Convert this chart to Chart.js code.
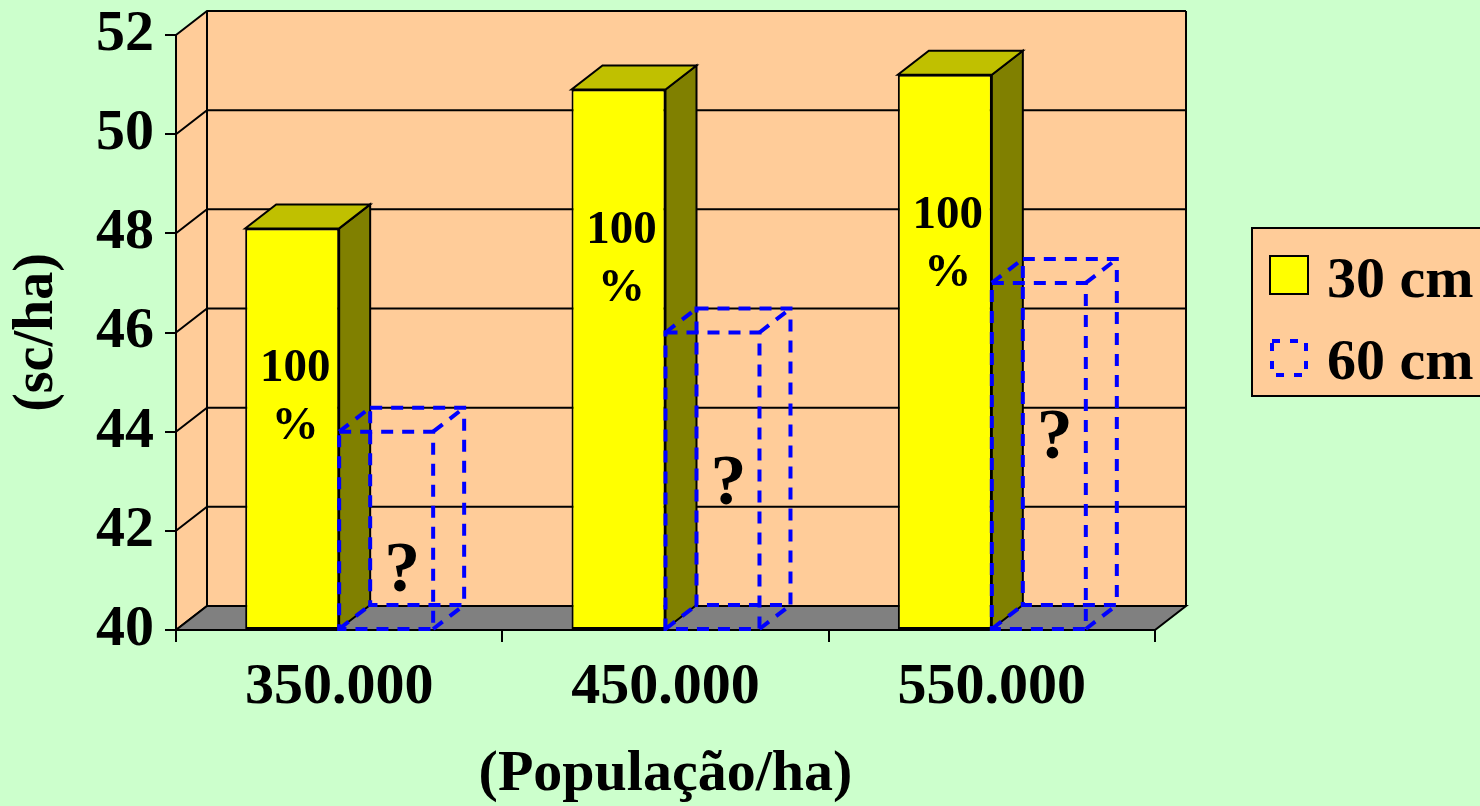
<!DOCTYPE html>
<html lang="pt-BR">
<head>
<meta charset="UTF-8">
<title>Produtividade x população</title>
<script src="https://cdn.jsdelivr.net/npm/chart.js@4.4.1/dist/chart.umd.min.js"></script>
<style>
    html, body { margin: 0; padding: 0; background: #CCFFCC; overflow: hidden; }
    canvas { display: block; }
</style>
</head>
<body>
<canvas id="produtividadeChart" width="1480" height="806"></canvas>
<script>
// dados (sc/ha) por população de plantas
const populacoes = ['350.000', '450.000', '550.000'];
const espacamento30 = [48.1, 50.9, 51.2];
const espacamento60 = [44.0, 46.0, 47.0];
const rotulos30 = ['100', '100', '100'];
const rotulos60 = ['?', '?', '?'];
const yMin = 40;
const yMax = 52;
const yPasso = 2;

// profundidade do efeito 3D
const DX = 31;
const DY = -24;

const FAMILIA = '"Liberation Serif", "Times New Roman", serif';
const fonte = (size, lineHeight = 1.2) => ({ family: FAMILIA, size, weight: 'bold', lineHeight });

function poligono(ctx, pts, fill) {
    ctx.beginPath();
    ctx.moveTo(pts[0][0], pts[0][1]);
    pts.slice(1).forEach(p => ctx.lineTo(p[0], p[1]));
    ctx.closePath();
    if (fill) {
        ctx.fillStyle = fill;
        ctx.fill();
    }
    ctx.stroke();
}

function caixa(chart, bar) {
    const { x, y, base, width } = bar.getProps(['x', 'y', 'base', 'width'], true);
    const fundo = Math.min(base, chart.chartArea.bottom);
    return { x, y, base: fundo, l: x - width / 2, r: x + width / 2, width };
}

const paredes3d = {
    id: 'paredes3d',
    beforeDraw(chart) {
        const { ctx, chartArea: a, scales: { y } } = chart;
        ctx.save();
        ctx.fillStyle = '#CCFFCC';
        ctx.fillRect(0, 0, chart.width, chart.height);

        // parede lateral + fundo
        ctx.fillStyle = '#FFCC99';
        ctx.beginPath();
        ctx.moveTo(a.left, a.top);
        ctx.lineTo(a.left + DX, a.top + DY);
        ctx.lineTo(a.right + DX, a.top + DY);
        ctx.lineTo(a.right + DX, a.bottom + DY);
        ctx.lineTo(a.left, a.bottom);
        ctx.closePath();
        ctx.fill();

        ctx.strokeStyle = '#000';
        ctx.lineWidth = 2;
        y.ticks.forEach(t => {
            const py = y.getPixelForValue(t.value);
            ctx.beginPath();
            ctx.moveTo(a.left, py);
            ctx.lineTo(a.left + DX, py + DY);
            ctx.lineTo(a.right + DX, py + DY);
            ctx.stroke();
        });
        ctx.beginPath();
        ctx.moveTo(a.left + DX, a.top + DY);
        ctx.lineTo(a.left + DX, a.bottom + DY);
        ctx.moveTo(a.right + DX, a.top + DY);
        ctx.lineTo(a.right + DX, a.bottom + DY);
        ctx.stroke();

        // piso
        poligono(ctx, [
            [a.left, a.bottom], [a.right, a.bottom],
            [a.right + DX, a.bottom + DY], [a.left + DX, a.bottom + DY]
        ], '#808080');
        ctx.restore();
    }
};

const barras3d = {
    id: 'barras3d',
    afterDatasetsDraw(chart) {
        const { ctx } = chart;
        const meta30 = chart.getDatasetMeta(0);
        const meta60 = chart.getDatasetMeta(1);
        ctx.save();

        // lateral e topo das barras cheias
        ctx.strokeStyle = '#000';
        ctx.lineWidth = 2;
        meta30.data.forEach(bar => {
            const { y, base, l, r } = caixa(chart, bar);
            poligono(ctx, [[r, y], [r + DX, y + DY], [r + DX, base + DY], [r, base]], '#808000');
            poligono(ctx, [[l, y], [r, y], [r + DX, y + DY], [l + DX, y + DY]], '#C0C000');
        });

        // barras tracejadas (só arestas)
        ctx.setLineDash([12, 9]);
        ctx.lineWidth = 4;
        ctx.strokeStyle = '#0000FF';
        meta60.data.forEach(bar => {
            const { y, base, l, r, width } = caixa(chart, bar);
            ctx.strokeRect(l, y, width, base - y);
            ctx.strokeRect(l + DX, y + DY, width, base - y);
            ctx.beginPath();
            [[l, y], [r, y], [l, base], [r, base]].forEach(([px, py]) => {
                ctx.moveTo(px, py);
                ctx.lineTo(px + DX, py + DY);
            });
            ctx.stroke();
        });
        ctx.setLineDash([]);

        // textos dentro das barras
        ctx.fillStyle = '#000';
        ctx.textAlign = 'center';
        ctx.textBaseline = 'alphabetic';
        ctx.font = `bold 47px ${FAMILIA}`;
        meta30.data.forEach((bar, i) => {
            const { x, y } = caixa(chart, bar);
            ctx.fillText(rotulos30[i], x + 3, y + 153);
            ctx.fillText('%', x + 3, y + 211);
        });
        const desloc60 = [159, 171, 175];
        ctx.font = `bold 72px ${FAMILIA}`;
        meta60.data.forEach((bar, i) => {
            const { x, y } = caixa(chart, bar);
            ctx.fillText(rotulos60[i], x + 16, y + desloc60[i]);
        });
        ctx.restore();
    }
};

const legenda = {
    id: 'legenda',
    afterDraw(chart) {
        const { ctx } = chart;
        const ds = chart.data.datasets;
        ctx.save();
        ctx.fillStyle = '#FFCC99';
        ctx.strokeStyle = '#000';
        ctx.lineWidth = 2;
        ctx.fillRect(1252, 228, 260, 168);
        ctx.strokeRect(1252, 228, 260, 168);

        ctx.fillStyle = ds[0].backgroundColor;
        ctx.fillRect(1270, 256, 38, 38);
        ctx.strokeRect(1270, 256, 38, 38);

        ctx.setLineDash([8, 10]);
        ctx.lineWidth = 4;
        ctx.strokeStyle = ds[1].borderColor;
        ctx.strokeRect(1272, 341, 34, 34);
        ctx.setLineDash([]);

        ctx.fillStyle = '#000';
        ctx.font = `bold 58px ${FAMILIA}`;
        ctx.textAlign = 'left';
        ctx.textBaseline = 'alphabetic';
        ctx.fillText(ds[0].label, 1327, 297);
        ctx.fillText(ds[1].label, 1327, 379);
        ctx.restore();
    }
};

function initProdutividadeChart() {
    new Chart(document.getElementById('produtividadeChart'), {
        type: 'bar',
        data: {
            labels: populacoes,
            datasets: [{
                label: '30 cm',
                data: espacamento30,
                base: yMin,
                backgroundColor: '#FFFF00',
                borderColor: '#000000',
                borderWidth: 2,
                borderSkipped: false
            }, {
                label: '60 cm',
                data: espacamento60,
                base: yMin,
                backgroundColor: 'rgba(0, 0, 0, 0)',
                borderColor: '#0000FF',
                borderWidth: 0
            }]
        },
        options: {
            responsive: false,
            animation: false,
            devicePixelRatio: 1,
            layout: {
                padding: { left: 0, top: 35, right: 325, bottom: 0 }
            },
            datasets: {
                bar: { categoryPercentage: 0.576, barPercentage: 1 }
            },
            plugins: {
                legend: { display: false },
                tooltip: { enabled: false }
            },
            scales: {
                x: {
                    afterFit: scale => {
                        scale.height = 176;
                        scale.paddingLeft = 0;
                        scale.paddingRight = 0;
                    },
                    grid: {
                        drawOnChartArea: false,
                        tickLength: 12,
                        color: '#000',
                        lineWidth: 2,
                        offset: true
                    },
                    border: { display: true, color: '#000', width: 2 },
                    ticks: { color: '#000', font: fonte(58), padding: 11, maxRotation: 0 },
                    title: {
                        display: true,
                        text: '(População/ha)',
                        color: '#000',
                        font: fonte(58, 1),
                        padding: { top: 0, bottom: 2 }
                    }
                },
                y: {
                    min: yMin,
                    max: yMax,
                    afterFit: scale => {
                        scale.width = 176;
                        scale.paddingTop = 0;
                        scale.paddingBottom = 0;
                    },
                    grid: {
                        drawOnChartArea: false,
                        tickLength: 11,
                        color: '#000',
                        lineWidth: 2
                    },
                    border: { display: true, color: '#000', width: 2 },
                    ticks: { stepSize: yPasso, color: '#000', font: fonte(58), padding: 11 },
                    title: {
                        display: true,
                        text: '(sc/ha)',
                        color: '#000',
                        font: fonte(56),
                        padding: { top: 4, bottom: 0 }
                    }
                }
            }
        },
        plugins: [paredes3d, barras3d, legenda]
    });
}

document.addEventListener('DOMContentLoaded', initProdutividadeChart);
</script>
</body>
</html>
